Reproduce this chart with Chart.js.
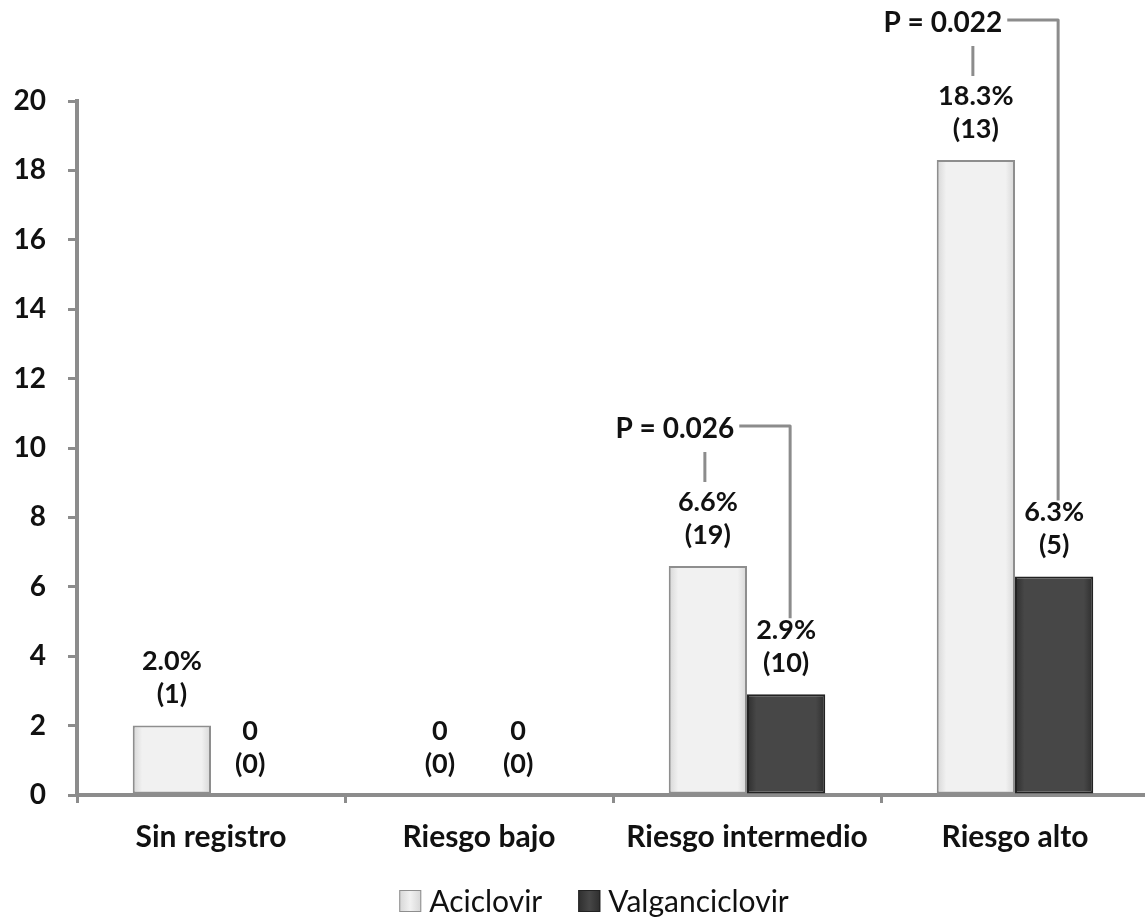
<!DOCTYPE html>
<html>
<head>
<meta charset="utf-8">
<script src="https://cdn.jsdelivr.net/npm/chart.js@4.4.1/dist/chart.umd.min.js"></script>
<style>
  html, body { margin: 0; padding: 0; background: #ffffff; overflow: hidden; }
  #wrap { width: 1149px; height: 919px; }
</style>
</head>
<body>
<div id="wrap"><canvas id="chart" width="1149" height="919"></canvas></div>
<script>
// Categories and series
const categories = ['Sin registro', 'Riesgo bajo', 'Riesgo intermedio', 'Riesgo alto'];
const seriesNames = ['Aciclovir', 'Valganciclovir'];
const aciclovirPct = [2.0, 0, 6.6, 18.3];
const aciclovirN = [1, 0, 19, 13];
const valganciclovirPct = [0, 0, 2.9, 6.3];
const valganciclovirN = [0, 0, 10, 5];
const yTicks = [0, 2, 4, 6, 8, 10, 12, 14, 16, 18, 20];
// Significance between both treatments, per category
const pCategories = ['Riesgo intermedio', 'Riesgo alto'];
const pValues = ['0.026', '0.022'];

const FONT = 'Lato, "Open Sans", sans-serif';
const AXIS_GREY = '#8c8c8c';
const CAT_PCT = 0.584;
const palette = [
  { edge: '#d6d6d6', mid: '#f1f1f1', border: '#8e8e8e' },
  { edge: '#2e2e2e', mid: '#474747', border: '#222222' }
];

const counts = [aciclovirN, valganciclovirN];

function pctText(v) { return v === 0 ? '0' : v.toFixed(1) + '%'; }

// Horizontal shading across each bar, placed from the category scale
function barShade(di) {
  return (c) => {
    const chart = c.chart;
    const x = chart.scales && chart.scales.x;
    const p = palette[di];
    if (!x || c.dataIndex === undefined || !isFinite(x.getPixelForValue(c.dataIndex))) return p.mid;
    const catW = x.width / chart.data.labels.length;
    const barW = catW * CAT_PCT / chart.data.datasets.length;
    const left = x.getPixelForValue(c.dataIndex) - catW * CAT_PCT / 2 + di * barW;
    const g = chart.ctx.createLinearGradient(left, 0, left + barW, 0);
    g.addColorStop(0, p.edge);
    g.addColorStop(0.12, p.mid);
    g.addColorStop(0.5, p.mid);
    g.addColorStop(0.88, p.mid);
    g.addColorStop(1, p.edge);
    return g;
  };
}

// Two-line value labels over every bar
const valueLabels = {
  id: 'valueLabels',
  afterDatasetsDraw(chart) {
    const ctx = chart.ctx;
    ctx.save();
    ctx.fillStyle = '#111';
    ctx.font = 'bold 27px ' + FONT;
    ctx.textAlign = 'center';
    ctx.textBaseline = 'middle';
    chart.data.datasets.forEach((ds, di) => {
      const meta = chart.getDatasetMeta(di);
      meta.data.forEach((el, i) => {
        const v = ds.data[i];
        ctx.fillText(pctText(v), el.x, el.y - 64);
        ctx.fillText('(' + counts[di][i] + ')', el.x, el.y - 31);
      });
    });
    ctx.restore();
  }
};

// P-value brackets joining both bars of a category
const pBrackets = {
  id: 'pBrackets',
  afterDatasetsDraw(chart) {
    const ctx = chart.ctx;
    const m0 = chart.getDatasetMeta(0), m1 = chart.getDatasetMeta(1);
    ctx.save();
    ctx.strokeStyle = AXIS_GREY;
    ctx.lineWidth = 3;
    ctx.lineJoin = 'round';
    ctx.fillStyle = '#111';
    ctx.font = 'bold 28px ' + FONT;
    ctx.textBaseline = 'middle';
    ctx.textAlign = 'center';
    pCategories.forEach((cat, k) => {
      const i = categories.indexOf(cat);
      const a = m0.data[i], b = m1.data[i];
      const label = 'P = ' + pValues[k];
      const ty = a.y - 137;
      const tx = a.x - 33;
      ctx.fillText(label, tx, ty);
      const w = ctx.measureText(label).width;
      // short stem down to the first bar's label
      ctx.beginPath();
      ctx.moveTo(a.x - 3, a.y - 114);
      ctx.lineTo(a.x - 3, a.y - 84);
      ctx.stroke();
      // elbow to the second bar's label
      const bx = b.x + 4;
      ctx.beginPath();
      ctx.moveTo(tx + w / 2 + 5, ty - 3);
      ctx.lineTo(bx, ty - 3);
      ctx.lineTo(bx, b.y - 76);
      ctx.stroke();
    });
    ctx.restore();
  }
};

// Legend row under the axis labels
const bottomLegend = {
  id: 'bottomLegend',
  afterDraw(chart) {
    const ctx = chart.ctx;
    ctx.save();
    ctx.font = '30px ' + FONT;
    ctx.textBaseline = 'alphabetic';
    ctx.textAlign = 'left';
    const box = 22, gapBoxText = 8, gapItems = 36;
    const widths = seriesNames.map(n => ctx.measureText(n).width);
    const total = widths.reduce((s, w) => s + box + gapBoxText + w, 0) + gapItems * (seriesNames.length - 1);
    let x = 594 - total / 2;
    const baseline = 912;
    seriesNames.forEach((name, i) => {
      const p = palette[i];
      const g = ctx.createLinearGradient(x, 0, x + box, 0);
      g.addColorStop(0, p.edge);
      g.addColorStop(0.5, p.mid);
      g.addColorStop(1, p.edge);
      ctx.fillStyle = g;
      ctx.fillRect(x, baseline - box, box, box);
      ctx.strokeStyle = p.border;
      ctx.lineWidth = 1;
      ctx.strokeRect(x + 0.5, baseline - box + 0.5, box - 1, box - 1);
      x += box + gapBoxText;
      ctx.fillStyle = '#111';
      ctx.fillText(name, x, baseline);
      x += widths[i] + gapItems;
    });
    ctx.restore();
  }
};

const zeroless = () => c => (c.raw === 0 ? 0 : 2);

const chart = new Chart(document.getElementById('chart'), {
  type: 'bar',
  data: {
    labels: categories,
    datasets: [
      {
        label: seriesNames[0],
        data: aciclovirPct,
        backgroundColor: barShade(0),
        borderColor: palette[0].border,
        borderWidth: zeroless(),
        borderSkipped: false
      },
      {
        label: seriesNames[1],
        data: valganciclovirPct,
        backgroundColor: barShade(1),
        borderColor: palette[1].border,
        borderWidth: zeroless(),
        borderSkipped: false
      }
    ]
  },
  options: {
    responsive: false,
    animation: false,
    devicePixelRatio: 1,
    layout: { padding: { top: 101, left: 0, right: 0, bottom: 0 } },
    datasets: { bar: { categoryPercentage: CAT_PCT, barPercentage: 1.0 } },
    plugins: {
      legend: { display: false },
      tooltip: { enabled: false }
    },
    scales: {
      x: {
        offset: true,
        grid: {
          offset: true,
          drawOnChartArea: false,
          drawTicks: true,
          tickLength: 8,
          color: AXIS_GREY,
          lineWidth: 3
        },
        border: { display: true, color: AXIS_GREY, width: 4 },
        ticks: {
          color: '#111',
          font: { family: FONT, size: 30, weight: 'bold' },
          padding: 16,
          maxRotation: 0,
          autoSkip: false
        },
        afterFit(scale) { scale.height = 124; }
      },
      y: {
        min: 0,
        max: 20,
        afterBuildTicks(scale) { scale.ticks = yTicks.map(v => ({ value: v })); },
        grid: {
          drawOnChartArea: false,
          drawTicks: true,
          tickLength: 9,
          color: AXIS_GREY,
          lineWidth: 3
        },
        border: { display: true, color: AXIS_GREY, width: 4 },
        ticks: {
          color: '#111',
          font: { family: FONT, size: 28, weight: 'bold' },
          padding: 22
        },
        afterFit(scale) { scale.width = 77; }
      }
    }
  },
  plugins: [valueLabels, pBrackets, bottomLegend]
});
// re-resolve bar shading once the scales have their final size
chart.update();
</script>
</body>
</html>
